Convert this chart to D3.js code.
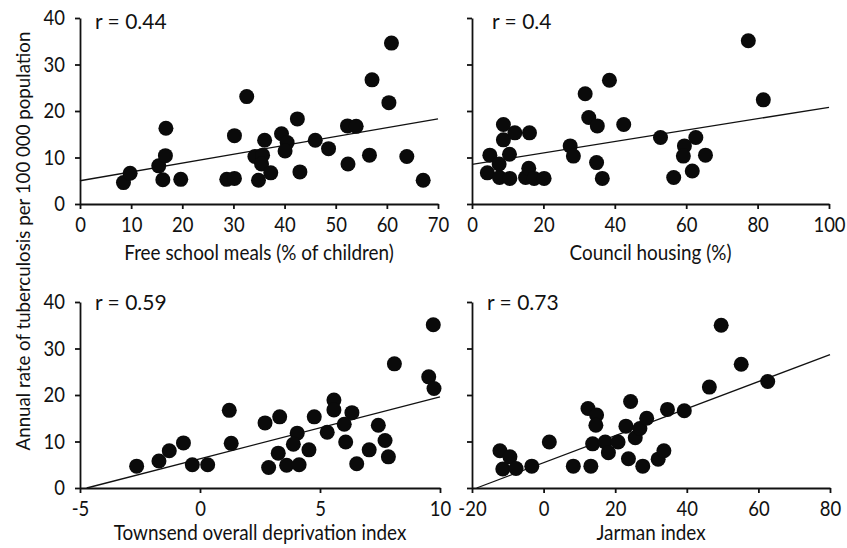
<!DOCTYPE html>
<html><head><meta charset="utf-8">
<script src="https://cdn.jsdelivr.net/npm/d3@7"></script>
<style>body{margin:0;background:#fff}text{font-family:Lato,"Open Sans",sans-serif;fill:#111}</style>
</head><body><svg id="c" width="847" height="548"></svg>
<script>
// ---- data ----
const yTicks = [0, 10, 20, 30, 40];
const yTitle = "Annual rate of tuberculosis per 100 000 population";

const mealsX = [8.5,9.8,15.4,16.7,16.8,16.2,19.7,28.7,30.2,30.2,32.6,34.2,35.7,35.5,34.9,36.1,37.3,39.4,40.5,40.1,42.5,43.0,46.0,48.6,52.3,54.0,52.4,56.6,57.1,60.4,60.9,63.9,67.1];
const mealsY = [4.6,6.6,8.2,10.4,16.3,5.2,5.3,5.3,5.5,14.7,23.1,10.2,10.5,8.6,5.1,13.7,6.7,15.1,13.2,11.4,18.3,6.9,13.7,11.9,16.8,16.7,8.6,10.5,26.7,21.8,34.6,10.2,5.1];
const mealsFitX = [0, 70], mealsFitY = [5.0, 18.3];
const mealsTicks = [0,10,20,30,40,50,60,70];

const councilX = [4.3,5.0,7.6,7.7,8.8,8.8,10.5,10.6,12.0,15.0,15.9,16.1,17.4,20.2,27.5,28.4,31.7,32.7,35.1,34.9,36.5,38.5,42.5,52.8,56.5,59.5,59.2,62.7,61.7,65.4,77.4,81.6];
const councilY = [6.7,10.5,8.6,5.7,13.8,17.1,10.7,5.5,15.3,5.7,7.7,15.3,5.5,5.5,12.5,10.3,23.7,18.6,16.8,8.9,5.5,26.6,17.1,14.3,5.7,12.5,10.3,14.3,7.1,10.5,35.1,22.4];
const councilFitX = [0, 100], councilFitY = [8.5, 20.8];
const councilTicks = [0,20,40,60,80,100];

const townX = [-2.64,-1.71,-1.28,-0.69,-0.32,0.32,1.22,1.30,2.71,2.86,3.32,3.26,3.61,4.05,3.89,4.13,4.54,4.76,5.30,5.58,5.58,6.01,6.07,6.33,6.53,7.05,7.43,7.71,7.85,8.10,9.53,9.75,9.72];
const townY = [4.7,5.8,8.0,9.7,5.0,5.0,16.7,9.6,14.0,4.4,15.3,7.5,4.9,11.8,9.4,5.0,8.2,15.3,12.0,18.9,16.8,13.7,9.9,16.2,5.2,8.2,13.5,10.2,6.7,26.7,23.9,21.4,35.1];
const townFitX = [-4.72, 10], townFitY = [0, 19.6];
const townTicks = [-5,0,5,10];

const jarmanX = [-12.2,-9.4,-11.4,-7.7,-3.3,1.6,8.3,12.4,13.2,14.8,14.6,13.7,17.2,18.1,20.8,23.0,24.3,23.7,25.6,26.9,28.8,27.7,32.0,33.6,34.6,39.3,46.3,49.6,55.2,62.6];
const jarmanY = [8.0,6.7,4.1,4.2,4.7,9.9,4.7,17.1,4.7,15.7,13.5,9.5,9.9,7.6,9.9,13.3,18.6,6.3,10.8,12.8,15.0,4.7,6.2,8.0,16.9,16.6,21.7,35.0,26.6,22.9];
const jarmanFitX = [-18.7, 80], jarmanFitY = [0, 28.7];
const jarmanTicks = [-20,0,20,40,60,80];

// ---- layout ----
const svg = d3.select("#c");
const panels = [
  {xs: mealsX, ys: mealsY, fx: mealsFitX, fy: mealsFitY, ticks: mealsTicks, dom:[0,70], xr:[80,438], yr:[204,18], title:"Free school meals (% of children)", r:"r = 0.44", rx:95, ry:29, ty:260, ylab:true},
  {xs: councilX, ys: councilY, fx: councilFitX, fy: councilFitY, ticks: councilTicks, dom:[0,100], xr:[472,829], yr:[204,18], title:"Council housing (%)", r:"r = 0.4", rx:492, ry:29, ty:260, ylab:false},
  {xs: townX, ys: townY, fx: townFitX, fy: townFitY, ticks: townTicks, dom:[-5,10], xr:[80,440], yr:[488,302], title:"Townsend overall deprivation index", r:"r = 0.59", rx:95, ry:310, ty:540, ylab:true},
  {xs: jarmanX, ys: jarmanY, fx: jarmanFitX, fy: jarmanFitY, ticks: jarmanTicks, dom:[-20,80], xr:[472,830], yr:[488,302], title:"Jarman index", r:"r = 0.73", rx:487, ry:310, ty:540, ylab:false}
];

panels.forEach(p => {
  const x = d3.scaleLinear().domain(p.dom).range(p.xr);
  const y = d3.scaleLinear().domain([0,40]).range(p.yr);
  const g = svg.append("g");

  const xa = g.append("g").attr("transform", `translate(0,${p.yr[0]})`)
    .call(d3.axisBottom(x).tickValues(p.ticks).tickSize(5).tickSizeOuter(0).tickPadding(8.5).tickFormat(d => String(d)));
  const ya = g.append("g").attr("transform", `translate(${p.xr[0]},0)`)
    .call(d3.axisLeft(y).tickValues(yTicks).tickSize(5).tickSizeOuter(0).tickPadding(12).tickFormat(p.ylab ? (d => String(d)) : () => ""));
  [xa, ya].forEach(a => {
    a.selectAll("path,line").attr("stroke", "#111").attr("stroke-width", 1.8);
    a.selectAll("text").attr("font-size", 21).attr("fill", "#111")
      .attr("font-family", "Lato, sans-serif").attr("transform", "scale(0.88,1)");
  });

  g.append("line")
    .attr("x1", x(p.fx[0])).attr("y1", y(p.fy[0]))
    .attr("x2", x(p.fx[1])).attr("y2", y(p.fy[1]))
    .attr("stroke", "#111").attr("stroke-width", 1.3);

  g.selectAll("circle").data(p.xs.map((v,i)=>[v,p.ys[i]])).join("circle")
    .attr("cx", d => x(d[0])).attr("cy", d => y(d[1])).attr("r", 7.5).attr("fill", "#0a0a0a");

  g.append("text").attr("x", p.rx).attr("y", p.ry)
    .attr("font-size", 21).text(p.r);

  const cx = (p.xr[0]+p.xr[1])/2;
  g.append("text").attr("transform", `translate(${cx},${p.ty}) scale(0.9,1)`)
    .attr("text-anchor", "middle").attr("font-size", 21).text(p.title);
});

svg.append("text").attr("transform", "translate(30,241) rotate(-90)")
  .attr("text-anchor", "middle").attr("font-size", 18.7).text(yTitle);
</script></body></html>
